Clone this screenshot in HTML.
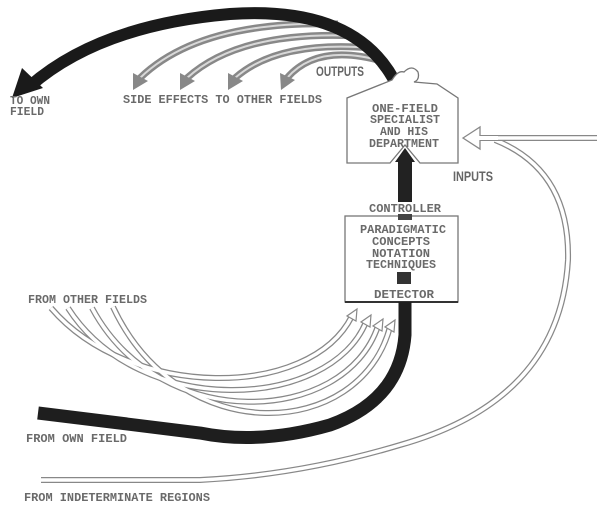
<!DOCTYPE html>
<html><head><style>
html,body{margin:0;padding:0;background:#fff;}
svg{display:block}
text{font-family:"Liberation Mono",monospace;font-weight:bold;fill:#6a6a6a;font-size:11.5px;}
.n{font-family:"Liberation Sans Narrow","Liberation Sans",sans-serif;font-size:14px;fill:#666;}
</style></head><body>
<svg width="605" height="515" viewBox="0 0 605 515" xmlns="http://www.w3.org/2000/svg">
<!-- gray side effect arcs -->
<g fill="none">
 <g stroke="#888" stroke-width="7">
  <path d="M338,24 Q200,20 140,78"/>
  <path d="M358,36 Q240,30 187,78"/>
  <path d="M372,48 Q278,40 235,78"/>
  <path d="M385,62 Q318,42 287,78"/>
 </g>
 <g stroke="#d8d8d8" stroke-width="2">
  <path d="M338,24 Q200,20 140,78"/>
  <path d="M358,36 Q240,30 187,78"/>
  <path d="M372,48 Q278,40 235,78"/>
  <path d="M385,62 Q318,42 287,78"/>
 </g>
</g>
<g fill="#888">
 <polygon points="133,90 133,73 148,81"/>
 <polygon points="180,90 180,73 195,81"/>
 <polygon points="228,90 228,73 243,81"/>
 <polygon points="281,90 280,73 295,80"/>
</g>
<!-- dark arc to own field -->
<path d="M398,88 Q360,5 230,14 Q100,25 30,86" fill="none" stroke="#1a1a1a" stroke-width="12"/>
<polygon points="12,98 22,68 43,88" fill="#1a1a1a"/>
<!-- top box -->
<path d="M347,163 L347,98 L392,80 Q398,70 404,72 Q412,64 418,72 Q420,80 414,82 L437,84 L458,98 L458,163 L420,163 L405,145 L390,163 Z" fill="#fff" stroke="#777" stroke-width="1.3"/>
<text x="372" y="112" textLength="66" lengthAdjust="spacingAndGlyphs">ONE-FIELD</text>
<text x="370" y="123" textLength="70" lengthAdjust="spacingAndGlyphs">SPECIALIST</text>
<text x="380" y="135" textLength="48" lengthAdjust="spacingAndGlyphs">AND HIS</text>
<text x="369" y="147" textLength="70" lengthAdjust="spacingAndGlyphs">DEPARTMENT</text>
<!-- dark up arrow -->
<rect x="398" y="160" width="14" height="42" fill="#222"/>
<polygon points="395,162 405,148 415,162" fill="#222"/>
<text x="369" y="212" textLength="72" lengthAdjust="spacingAndGlyphs">CONTROLLER</text>
<!-- lower box -->
<rect x="345" y="216" width="113" height="86" fill="#fff" stroke="#777" stroke-width="1.3"/>
<rect x="398" y="214" width="14" height="6" fill="#444"/>
<text x="360" y="233" textLength="86" lengthAdjust="spacingAndGlyphs">PARADIGMATIC</text>
<text x="372" y="245" textLength="58" lengthAdjust="spacingAndGlyphs">CONCEPTS</text>
<text x="372" y="257" textLength="58" lengthAdjust="spacingAndGlyphs">NOTATION</text>
<text x="366" y="268" textLength="70" lengthAdjust="spacingAndGlyphs">TECHNIQUES</text>
<rect x="397" y="272" width="14" height="12" fill="#333"/>
<text x="374" y="298" textLength="60" lengthAdjust="spacingAndGlyphs">DETECTOR</text>
<line x1="345" y1="302" x2="458" y2="302" stroke="#333" stroke-width="2"/>
<!-- dark from own field -->
<path d="M405,302 L405,335 Q400,400 330,425 Q260,445 200,433 L38,413" fill="none" stroke="#1e1e1e" stroke-width="13"/>
<!-- gray from other fields -->
<g fill="none">
 <g stroke="#888" stroke-width="6">
  <path d="M51,308 C130,400 310,400 352,316"/>
  <path d="M68,308 C140,420 330,410 366,322"/>
  <path d="M92,308 C160,435 345,425 378,326"/>
  <path d="M113,307 C180,450 360,440 390,327"/>
 </g>
 <g stroke="#fff" stroke-width="3.5">
  <path d="M51,308 C130,400 310,400 352,316"/>
  <path d="M68,308 C140,420 330,410 366,322"/>
  <path d="M92,308 C160,435 345,425 378,326"/>
  <path d="M113,307 C180,450 360,440 390,327"/>
 </g>
</g>
<g fill="#fff" stroke="#888" stroke-width="1.2">
 <polygon points="357,309 347,316 356,321"/>
 <polygon points="371,315 361,322 370,327"/>
 <polygon points="383,319 373,326 382,331"/>
 <polygon points="395,320 385,327 394,332"/>
</g>
<!-- inputs -->
<g fill="none">
 <path d="M495,140 Q570,170 568,260 Q560,400 400,445 Q300,475 200,480 L41,480" stroke="#888" stroke-width="6"/>
 <path d="M495,140 Q570,170 568,260 Q560,400 400,445 Q300,475 200,480 L41,480" stroke="#fff" stroke-width="3.5"/>
 <path d="M597,138 L475,138" stroke="#888" stroke-width="6"/>
 <path d="M597,138 L475,138" stroke="#fff" stroke-width="3.5"/>
</g>
<polygon points="463,138 480,127 480,149" fill="#fff" stroke="#888" stroke-width="1.3"/>
<rect x="478" y="136" width="20" height="4" fill="#fff"/>
<!-- labels -->
<text x="10" y="104" textLength="40" lengthAdjust="spacingAndGlyphs">TO OWN</text>
<text x="10" y="115" textLength="34" lengthAdjust="spacingAndGlyphs">FIELD</text>
<text x="123" y="103" textLength="199" lengthAdjust="spacingAndGlyphs">SIDE EFFECTS TO OTHER FIELDS</text>
<text class="n" x="316" y="76" textLength="48" lengthAdjust="spacingAndGlyphs">OUTPUTS</text>
<text class="n" x="453" y="181" textLength="40" lengthAdjust="spacingAndGlyphs">INPUTS</text>
<text x="28" y="303" textLength="119" lengthAdjust="spacingAndGlyphs">FROM OTHER FIELDS</text>
<text x="26" y="442" textLength="101" lengthAdjust="spacingAndGlyphs">FROM OWN FIELD</text>
<text x="24" y="501" textLength="186" lengthAdjust="spacingAndGlyphs">FROM INDETERMINATE REGIONS</text>
</svg>
</body></html>
